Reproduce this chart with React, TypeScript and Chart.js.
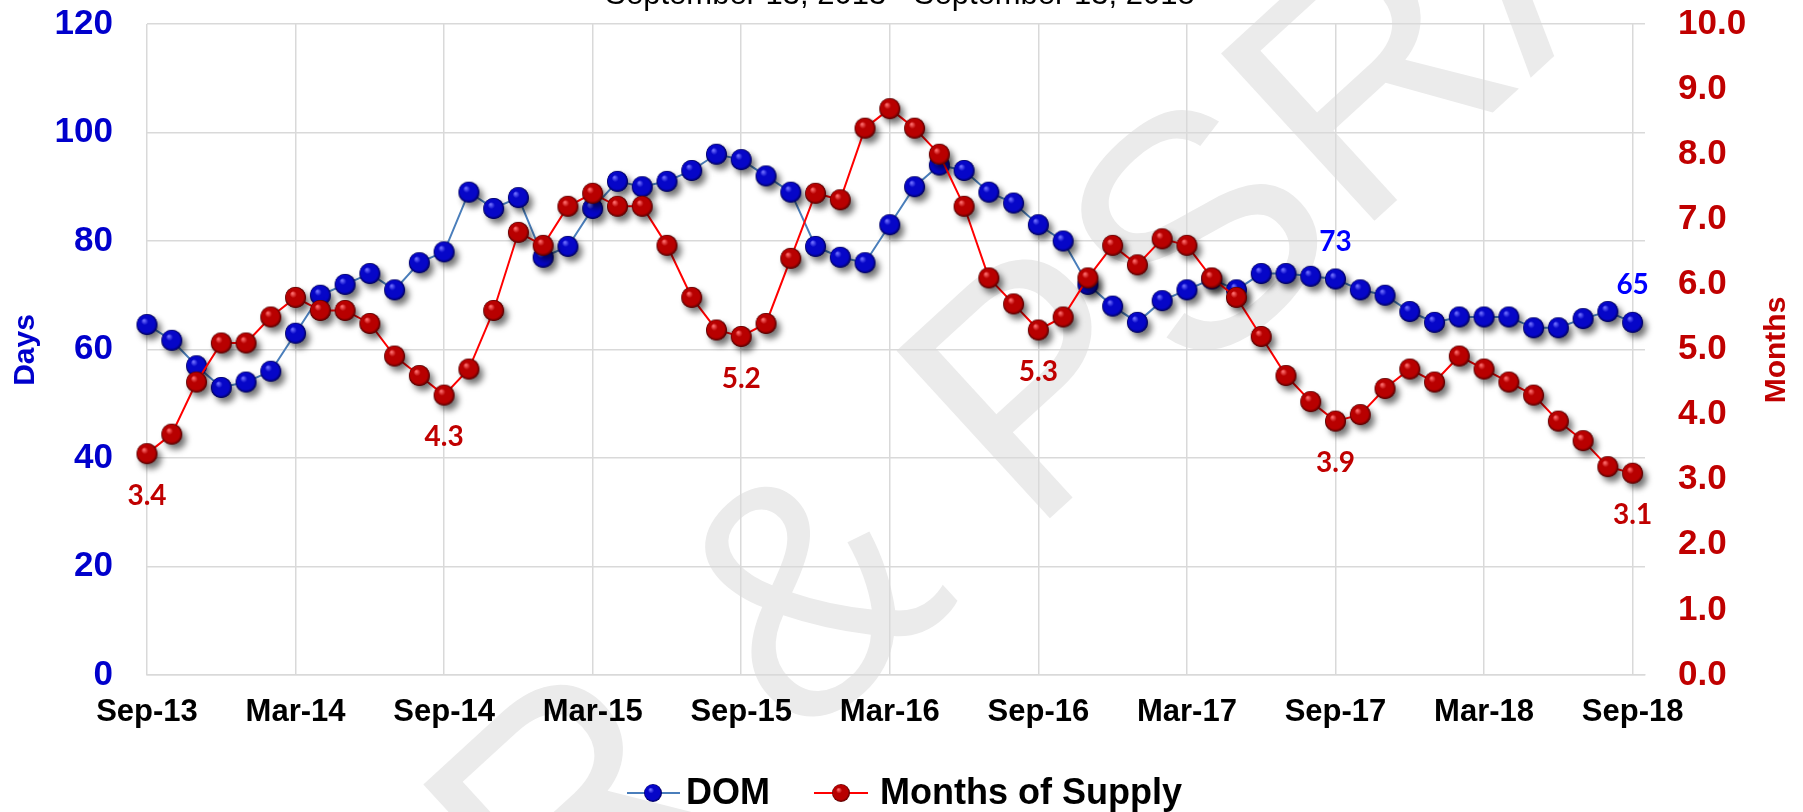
import { useEffect, useRef } from "react";
import { Chart, registerables } from "chart.js";

Chart.register(...registerables);

const months = [
  "Sep-13","Oct-13","Nov-13","Dec-13","Jan-14","Feb-14","Mar-14","Apr-14","May-14","Jun-14","Jul-14","Aug-14",
  "Sep-14","Oct-14","Nov-14","Dec-14","Jan-15","Feb-15","Mar-15","Apr-15","May-15","Jun-15","Jul-15","Aug-15",
  "Sep-15","Oct-15","Nov-15","Dec-15","Jan-16","Feb-16","Mar-16","Apr-16","May-16","Jun-16","Jul-16","Aug-16",
  "Sep-16","Oct-16","Nov-16","Dec-16","Jan-17","Feb-17","Mar-17","Apr-17","May-17","Jun-17","Jul-17","Aug-17",
  "Sep-17","Oct-17","Nov-17","Dec-17","Jan-18","Feb-18","Mar-18","Apr-18","May-18","Jun-18","Jul-18","Aug-18",
  "Sep-18",
];
const tickIndices = [0, 6, 12, 18, 24, 30, 36, 42, 48, 54, 60];

const domValues = [
  64.6, 61.7, 57, 53, 54, 56, 63, 70, 72, 74, 71, 76, 78, 89, 86, 88, 77, 79, 86,
  91, 90, 91, 93, 96, 95, 92, 89, 79, 77, 76, 83, 90, 94, 93, 89, 87, 83,
  80, 72, 68, 65, 69, 71, 73, 71, 74, 74, 73.5, 73, 71, 70, 67, 65,
  66, 66, 66, 64, 64, 65.7, 67, 65,
];
const mosValues = [
  3.4, 3.7, 4.5, 5.1, 5.1, 5.5, 5.8, 5.6, 5.6, 5.4, 4.9, 4.6, 4.3, 4.7, 5.6, 6.8, 6.6, 7.2, 7.4,
  7.2, 7.2, 6.6, 5.8, 5.3, 5.2, 5.4, 6.4, 7.4, 7.3, 8.4, 8.7, 8.4, 8.0, 7.2, 6.1, 5.7, 5.3,
  5.5, 6.1, 6.6, 6.3, 6.7, 6.6, 6.1, 5.8, 5.2, 4.6, 4.2, 3.9, 4.0, 4.4, 4.7, 4.5,
  4.9, 4.7, 4.5, 4.3, 3.9, 3.6, 3.2, 3.1,
];
const mosLabelIndices = [0, 12, 24, 36, 48, 60];
const domLabelIndices = [48, 60];

const subtitle = "September 13, 2013 - September 13, 2018";
const watermark = "AR & PSRA";
const FONT = "'Liberation Sans', Arial, sans-serif";
const LABEL_FONT = "Lato, 'Liberation Sans', sans-serif";

function makeSphere(light: string, base: string, dark: string, r: number, shadow: boolean) {
  const size = Math.ceil(2 * r + 24);
  const c = document.createElement("canvas");
  c.width = size;
  c.height = size;
  const ctx = c.getContext("2d")!;
  const cx = size / 2;
  const cy = size / 2;
  if (shadow) {
    ctx.save();
    ctx.shadowColor = "rgba(0,0,0,0.55)";
    ctx.shadowBlur = 6;
    ctx.shadowOffsetX = 4;
    ctx.shadowOffsetY = 5;
    ctx.beginPath();
    ctx.arc(cx, cy, r, 0, Math.PI * 2);
    ctx.fillStyle = dark;
    ctx.fill();
    ctx.restore();
  }
  const g = ctx.createRadialGradient(cx - r * 0.3, cy - r * 0.4, r * 0.05, cx, cy, r);
  g.addColorStop(0, light);
  g.addColorStop(0.3, base);
  g.addColorStop(0.8, base);
  g.addColorStop(1, dark);
  ctx.beginPath();
  ctx.arc(cx, cy, r, 0, Math.PI * 2);
  ctx.fillStyle = g;
  ctx.fill();
  return c;
}

export default function App() {
  const ref = useRef<HTMLCanvasElement>(null);

  useEffect(() => {
    document.body.style.margin = "0";
    const blueBall = makeSphere("#7070ff", "#0606c8", "#000058", 10.5, true);
    const redBall = makeSphere("#ff7070", "#b80000", "#500000", 10.5, true);
    const blueSmall = makeSphere("#7070ff", "#0606c8", "#000058", 9, false);
    const redSmall = makeSphere("#ff7070", "#b80000", "#500000", 9, false);

    const overlay = {
      id: "overlay",
      beforeDraw(chart: any) {
        const ctx = chart.ctx;
        ctx.save();
        ctx.fillStyle = "#fff";
        ctx.fillRect(0, 0, chart.width, chart.height);
        ctx.translate(982, 457);
        ctx.rotate((-42.5 * Math.PI) / 180);
        ctx.font = `330px ${FONT}`;
        ctx.textAlign = "center";
        ctx.textBaseline = "middle";
        ctx.fillStyle = "#EBEBEB";
        ctx.fillText(watermark, 0, 0);
        ctx.restore();
      },
      afterDatasetsDraw(chart: any) {
        const ctx = chart.ctx;
        ctx.save();
        ctx.textAlign = "center";
        ctx.textBaseline = "middle";
        ctx.font = `bold 28px ${LABEL_FONT}`;
        const mosMeta = chart.getDatasetMeta(1);
        ctx.fillStyle = "#C00000";
        mosLabelIndices.forEach((i) => {
          const p = mosMeta.data[i];
          ctx.fillText(mosValues[i].toFixed(1), p.x, p.y + 42);
        });
        const domMeta = chart.getDatasetMeta(0);
        ctx.fillStyle = "#0000FF";
        domLabelIndices.forEach((i) => {
          const p = domMeta.data[i];
          ctx.fillText(String(Math.round(domValues[i])), p.x, p.y - 37);
        });
        ctx.restore();
      },
      afterDraw(chart: any) {
        const ctx = chart.ctx;
        ctx.save();
        // subtitle (cut at the top)
        ctx.fillStyle = "#000";
        ctx.font = `31px ${FONT}`;
        ctx.textAlign = "center";
        ctx.textBaseline = "alphabetic";
        ctx.fillText(subtitle, 900, 4);

        // axis titles
        ctx.font = `bold 30px ${FONT}`;
        ctx.textBaseline = "middle";
        ctx.save();
        ctx.translate(26, 350);
        ctx.rotate(-Math.PI / 2);
        ctx.fillStyle = "#0000CC";
        ctx.fillText("Days", 0, 0);
        ctx.restore();
        ctx.save();
        ctx.translate(1777, 350);
        ctx.rotate(-Math.PI / 2);
        ctx.fillStyle = "#C00000";
        ctx.fillText("Months", 0, 0);
        ctx.restore();

        // legend
        const ly = 793;
        ctx.lineWidth = 2;
        ctx.strokeStyle = "#4A7EBB";
        ctx.beginPath();
        ctx.moveTo(627, ly);
        ctx.lineTo(680, ly);
        ctx.stroke();
        ctx.drawImage(blueSmall, 653 - blueSmall.width / 2, ly - blueSmall.height / 2);
        ctx.strokeStyle = "#FF0000";
        ctx.beginPath();
        ctx.moveTo(814, ly);
        ctx.lineTo(868, ly);
        ctx.stroke();
        ctx.drawImage(redSmall, 841 - redSmall.width / 2, ly - redSmall.height / 2);
        ctx.fillStyle = "#000";
        ctx.font = `bold 36px ${FONT}`;
        ctx.textAlign = "left";
        ctx.fillText("DOM", 686, ly + 1);
        ctx.fillText("Months of Supply", 880, ly + 1);
        ctx.restore();
      },
    };

    const noPad = (s: any) => {
      s.paddingTop = 0;
      s.paddingBottom = 0;
    };

    const tickFont = { family: FONT, size: 35, weight: "bold" as const };
    const chart = new Chart(ref.current!, {
      type: "line",
      data: {
        datasets: [
          {
            label: "DOM",
            data: domValues.map((v, i) => ({ x: i, y: v })),
            yAxisID: "y",
            borderColor: "#4A7EBB",
            borderWidth: 2,
            pointStyle: blueBall as any,
            pointRadius: 10,
            order: 2,
            clip: false as any,
            tension: 0,
          },
          {
            label: "Months of Supply",
            data: mosValues.map((v, i) => ({ x: i, y: v })),
            yAxisID: "y1",
            borderColor: "#FF0000",
            borderWidth: 2,
            pointStyle: redBall as any,
            pointRadius: 10,
            order: 1,
            clip: false as any,
            tension: 0,
          },
        ],
      },
      options: {
        animation: false,
        responsive: false,
        maintainAspectRatio: false,
        layout: { padding: { top: 24, left: 0, right: 0, bottom: 0 } },
        plugins: {
          legend: { display: false },
          tooltip: { enabled: false },
          title: { display: false },
        },
        scales: {
          x: {
            type: "linear",
            min: 0,
            max: 60.5,
            afterBuildTicks: (s: any) => {
              s.ticks = tickIndices.map((v) => ({ value: v }));
            },
            afterFit: (s: any) => {
              s.height = 137;
              s.paddingLeft = 0;
              s.paddingRight = 0;
            },
            grid: { color: "#D9D9D9", lineWidth: 1.5, drawTicks: false },
            border: { color: "#D9D9D9", width: 1.5 },
            ticks: {
              padding: 19,
              autoSkip: false,
              maxRotation: 0,
              color: "#000",
              font: { family: FONT, size: 31, weight: "bold" },
              callback: (v: any) => months[v as number] ?? "",
            },
          },
          y: {
            position: "left",
            min: 0,
            max: 120,
            afterFit: (s: any) => {
              s.width = 147;
              noPad(s);
            },
            grid: { color: "#D9D9D9", lineWidth: 1.5, drawTicks: false },
            border: { display: false },
            ticks: { stepSize: 20, padding: 34, color: "#0000CC", font: tickFont },
          },
          y1: {
            position: "right",
            min: 0,
            max: 10,
            afterFit: (s: any) => {
              s.width = 158;
              noPad(s);
            },
            grid: { display: false, drawTicks: false },
            border: { display: false },
            ticks: {
              stepSize: 1,
              padding: 33,
              color: "#C00000",
              font: tickFont,
              callback: (v: any) => Number(v).toFixed(1),
            },
          },
        },
      },
      plugins: [overlay],
    });

    return () => chart.destroy();
  }, []);

  return (
    <div style={{ width: 1803, height: 812, background: "#fff" }}>
      <canvas ref={ref} width={1803} height={812} style={{ display: "block" }} />
    </div>
  );
}
